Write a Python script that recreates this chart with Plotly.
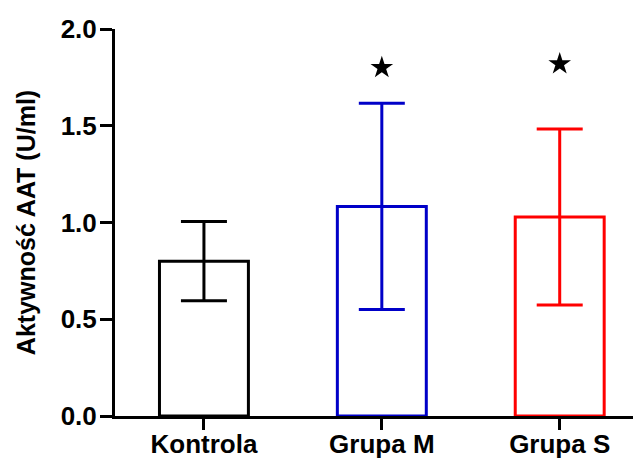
import plotly.graph_objects as go

categories = ["Kontrola", "Grupa M", "Grupa S"]
means = [0.80, 1.083, 1.028]
sd = [0.205, 0.533, 0.455]
colors = ["#000000", "#0000C8", "#FF0000"]
star_groups = ["Grupa M", "Grupa S"]
star_y = [1.80, 1.82]
y_ticks = [0.0, 0.5, 1.0, 1.5, 2.0]
y_tick_labels = ["0.0", "0.5", "1.0", "1.5", "2.0"]

fig = go.Figure()
for cat, m, s, c in zip(categories, means, sd, colors):
    fig.add_trace(go.Bar(
        x=[cat], y=[m], width=0.5,
        marker=dict(color="white", line=dict(color=c, width=3)),
        error_y=dict(type="data", array=[s], visible=True, color=c, thickness=3, width=23),
        showlegend=False,
    ))

fig.add_trace(go.Scatter(
    x=star_groups, y=star_y, mode="markers",
    marker=dict(symbol="star", size=17, color="black"),
    showlegend=False,
))

font = dict(family="Liberation Sans, Arial, sans-serif", size=25, color="black", weight="bold")
tick_font = dict(family="Liberation Sans, Arial, sans-serif", size=26, color="black", weight="bold")

fig.update_layout(
    width=633, height=454,
    margin=dict(l=107, r=0, t=21, b=46, autoexpand=False),
    plot_bgcolor="white", paper_bgcolor="white",
    barmode="overlay",
    font=font,
    xaxis=dict(
        type="category", categoryorder="array", categoryarray=categories,
        range=[-0.5, 2.457], showline=True, linecolor="black", linewidth=3,
        ticks="outside", ticklen=11, tickwidth=3, tickcolor="black",
        showgrid=False, zeroline=False, tickfont=tick_font, automargin=False,
        ticklabelstandoff=-8,
    ),
    yaxis=dict(
        range=[0, 2.0], tickvals=y_ticks, ticktext=y_tick_labels,
        showline=True, linecolor="black", linewidth=3,
        ticks="outside", ticklen=12, tickwidth=3, tickcolor="black",
        showgrid=False, zeroline=False, tickfont=tick_font, automargin=False,
        ticklabelstandoff=-2,
        title=dict(text="Aktywność AAT (U/ml)", font=font, standoff=18),
    ),
)

fig.write_html("out.html")
